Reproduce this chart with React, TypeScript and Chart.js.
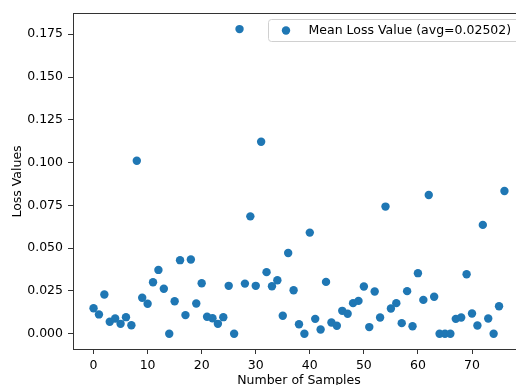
import React, { useEffect, useRef } from 'react';
import { Chart, registerables } from 'chart.js';

Chart.register(...registerables);

const sampleIndex: number[] = Array.from({ length: 77 }, (_, i) => i);
const lossValues: number[] = [
  0.0149, 0.0113, 0.0229, 0.0070, 0.0089, 0.0058, 0.0097, 0.0050, 0.1011, 0.0210,
  0.0175, 0.0301, 0.0373, 0.0263, 0.0000, 0.0190, 0.0430, 0.0109, 0.0434, 0.0177,
  0.0295, 0.0099, 0.0091, 0.0058, 0.0097, 0.0280, 0.0000, 0.1780, 0.0293, 0.0686,
  0.0280, 0.1122, 0.0360, 0.0278, 0.0313, 0.0105, 0.0472, 0.0254, 0.0056, 0.0000,
  0.0591, 0.0087, 0.0025, 0.0303, 0.0066, 0.0047, 0.0134, 0.0117, 0.0179, 0.0192,
  0.0276, 0.0039, 0.0247, 0.0095, 0.0743, 0.0148, 0.0179, 0.0062, 0.0249, 0.0044,
  0.0354, 0.0198, 0.0811, 0.0216, 0.0000, 0.0000, 0.0000, 0.0087, 0.0095, 0.0348,
  0.0118, 0.0048, 0.0636, 0.0089, 0.0000, 0.0161, 0.0834,
];
const xTickValues: number[] = [0, 10, 20, 30, 40, 50, 60, 70];
const yTickValues: number[] = [0, 0.025, 0.05, 0.075, 0.1, 0.125, 0.15, 0.175];
const legendLabel = 'Mean Loss Value (avg=0.02502)';
const xTitle = 'Number of Samples';
const yTitle = 'Loss Values';

const FONT = 'DejaVu Sans';
const FSIZE = 12.5;
const BLUE = '#1f77b4';
const CANVAS_W = 520;

export default function App() {
  const ref = useRef<HTMLCanvasElement | null>(null);

  useEffect(() => {
    if (!ref.current) return;
    const decor = {
      id: 'decor',
      afterDraw(chart: any) {
        const ctx = chart.ctx as CanvasRenderingContext2D;
        const a = chart.chartArea;
        ctx.save();
        // top spine
        ctx.strokeStyle = '#333';
        ctx.lineWidth = 1;
        ctx.beginPath();
        ctx.moveTo(a.left, a.top + 0.5);
        ctx.lineTo(CANVAS_W, a.top + 0.5);
        ctx.stroke();
        // axis titles
        ctx.fillStyle = '#000';
        ctx.font = `${FSIZE}px "${FONT}"`;
        ctx.textAlign = 'center';
        ctx.textBaseline = 'alphabetic';
        ctx.fillText(xTitle, 299, 383.5);
        ctx.save();
        ctx.translate(21, 181.5);
        ctx.rotate(-Math.PI / 2);
        ctx.fillText(yTitle, 0, 0);
        ctx.restore();
        // legend
        const lx = 268.5, ly = 19.5, lw = 270, lh = 22, r = 3;
        ctx.beginPath();
        ctx.moveTo(lx + r, ly);
        ctx.lineTo(lx + lw - r, ly);
        ctx.arcTo(lx + lw, ly, lx + lw, ly + r, r);
        ctx.lineTo(lx + lw, ly + lh - r);
        ctx.arcTo(lx + lw, ly + lh, lx + lw - r, ly + lh, r);
        ctx.lineTo(lx + r, ly + lh);
        ctx.arcTo(lx, ly + lh, lx, ly + lh - r, r);
        ctx.lineTo(lx, ly + r);
        ctx.arcTo(lx, ly, lx + r, ly, r);
        ctx.closePath();
        ctx.fillStyle = 'rgba(255,255,255,0.8)';
        ctx.fill();
        ctx.strokeStyle = '#d0d0d0';
        ctx.stroke();
        ctx.fillStyle = BLUE;
        ctx.beginPath();
        ctx.arc(286, 30.5, 4.2, 0, Math.PI * 2);
        ctx.fill();
        ctx.fillStyle = '#000';
        ctx.textAlign = 'left';
        ctx.textBaseline = 'middle';
        ctx.fillText(legendLabel, 308.5, 31);
        ctx.restore();
      },
    };

    const chart = new Chart(ref.current, {
      type: 'scatter',
      data: {
        datasets: [
          {
            label: legendLabel,
            data: sampleIndex.map((x, i) => ({ x, y: lossValues[i] })),
            backgroundColor: BLUE,
            borderColor: BLUE,
            borderWidth: 0,
            pointRadius: 4.2,
            pointHoverRadius: 4.2,
          },
        ],
      },
      options: {
        animation: false,
        responsive: false,
        devicePixelRatio: 1,
        events: [],
        layout: { padding: { top: 13, right: 0, left: 0, bottom: 0 } },
        plugins: { legend: { display: false }, tooltip: { enabled: false } },
        scales: {
          x: {
            type: 'linear',
            min: -3.8,
            max: 78.1,
            afterBuildTicks: (axis: any) => {
              axis.ticks = xTickValues.map((v) => ({ value: v }));
            },
            afterFit: (axis: any) => {
              axis.height = 36;
              axis.paddingLeft = 0;
              axis.paddingRight = 0;
            },
            grid: {
              drawOnChartArea: false,
              drawTicks: true,
              tickLength: 5,
              tickColor: '#333',
            },
            border: { display: true, color: '#333', width: 1 },
            ticks: {
              padding: 4,
              color: '#000',
              font: { family: FONT, size: FSIZE },
              maxRotation: 0,
              callback: (v: any) => String(v),
            },
          },
          y: {
            type: 'linear',
            min: -0.0089,
            max: 0.1874,
            afterBuildTicks: (axis: any) => {
              axis.ticks = yTickValues.map((v) => ({ value: v }));
            },
            afterFit: (axis: any) => {
              axis.width = 73;
              axis.paddingTop = 0;
              axis.paddingBottom = 0;
            },
            grid: {
              drawOnChartArea: false,
              drawTicks: true,
              tickLength: 5,
              tickColor: '#333',
            },
            border: { display: true, color: '#333', width: 1 },
            ticks: {
              padding: 5,
              color: '#000',
              font: { family: FONT, size: FSIZE },
              callback: (v: any) => Number(v).toFixed(3),
            },
          },
        },
      },
      plugins: [decor],
    } as any);
    return () => chart.destroy();
  }, []);

  return (
    <div style={{ position: 'fixed', left: 0, top: 0, width: 516, height: 385, overflow: 'hidden', background: '#fff' }}>
      <canvas ref={ref} width={CANVAS_W} height={385} style={{ display: 'block' }} />
    </div>
  );
}
